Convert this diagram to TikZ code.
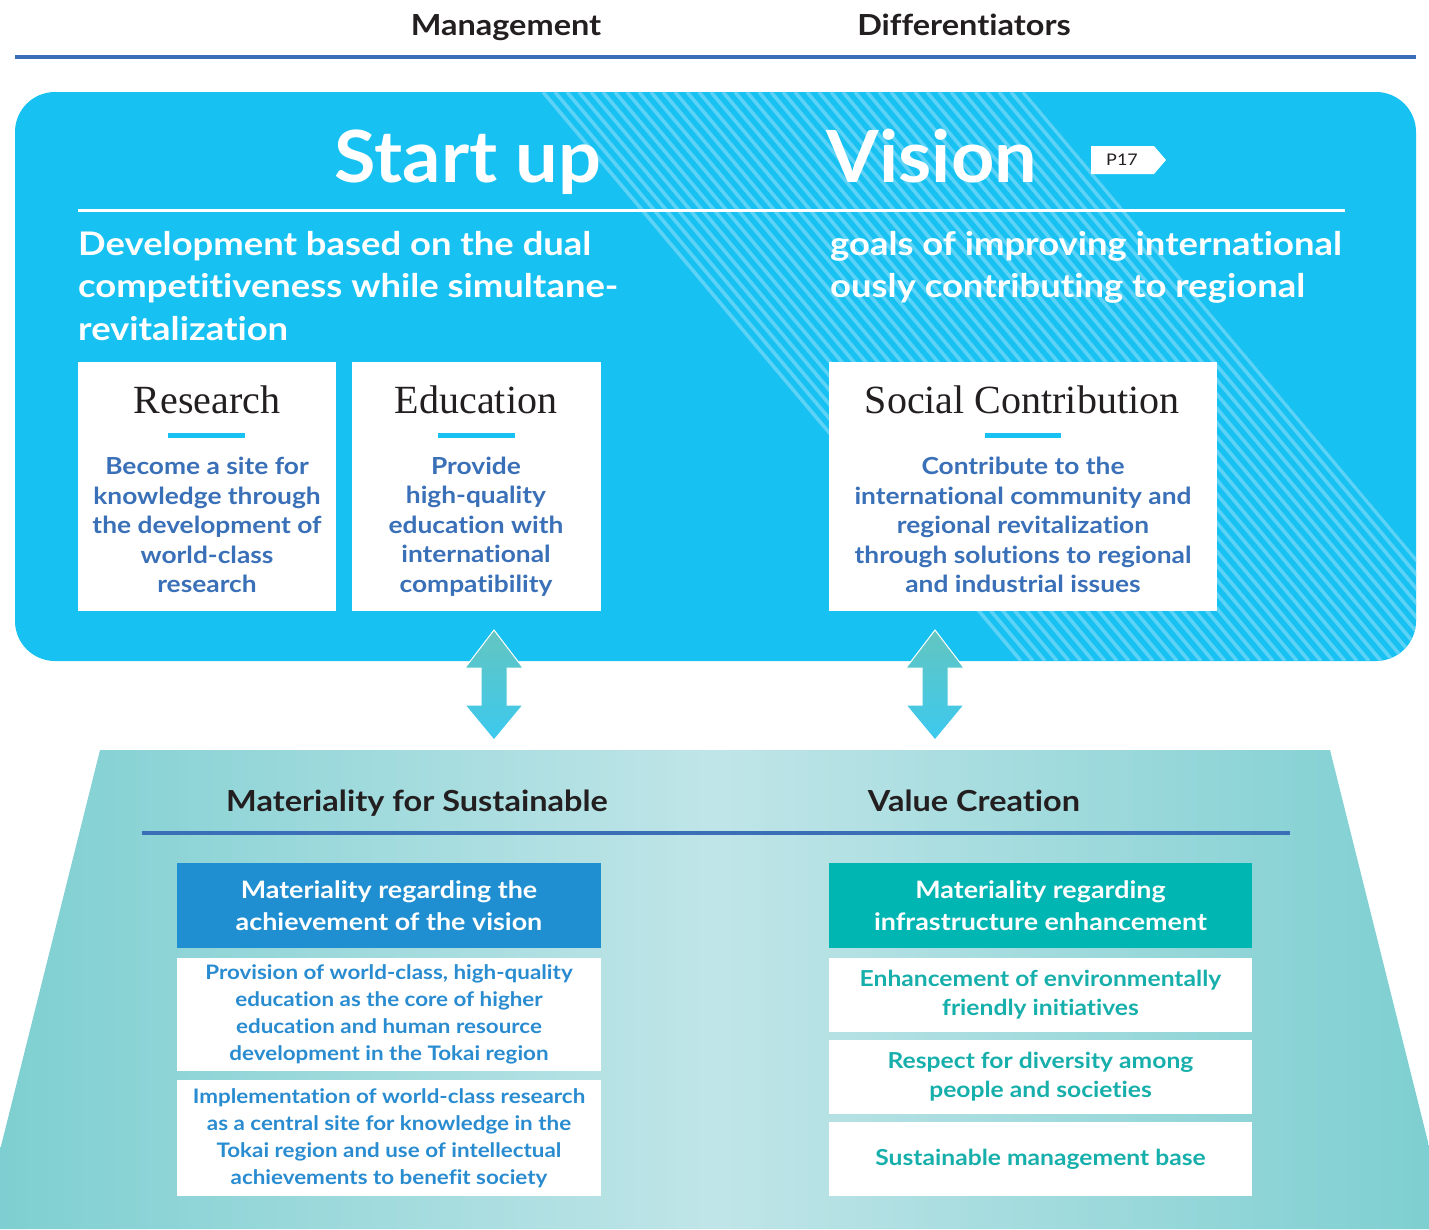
\documentclass[tikz,border=0pt]{standalone}
\usepackage{fontspec}
\usepackage{tikz}
\usetikzlibrary{positioning}
\newfontfamily\gothic{Lato}[FakeStretch=1.12, Ligatures=NoCommon]
\newfontfamily\gothicT{Lato}[FakeStretch=1.05, Ligatures=NoCommon]
\newfontfamily\serifh{Liberation Serif}
\definecolor{ruleBlue}{HTML}{3A6FB7}
\definecolor{panelBlue}{HTML}{17C1F1}
\definecolor{stripeCol}{HTML}{5CD2F6}
\definecolor{darkText}{HTML}{231F20}
\definecolor{textBlue}{HTML}{3A70B8}
\definecolor{headBlue}{HTML}{1F8FD1}
\definecolor{itemBlue}{HTML}{2A8CD0}
\definecolor{headTeal}{HTML}{00B6B2}
\definecolor{itemTeal}{HTML}{17AFAB}
\definecolor{trapEdge}{HTML}{7ECFD1}
\definecolor{trapMid}{HTML}{C0E5E8}
\definecolor{arrTop}{HTML}{63C5C0}
\definecolor{arrBot}{HTML}{3CC9EF}
\tikzset{myRule/.style={line width=4pt,color=ruleBlue}}
\tikzset{myStripe/.style={line width=3.6pt,color=stripeCol}}
\tikzset{sectionTitle/.style={inner sep=0pt,anchor=base,text=darkText,font=\gothic\bfseries\fontsize{29}{32}\selectfont}}
\tikzset{bigTitle/.style={inner sep=0pt,anchor=base,text=white,font=\gothicT\bfseries\fontsize{72}{80}\selectfont}}
\tikzset{leadText/.style={inner sep=0pt,align=left,text=white,font=\gothic\bfseries\fontsize{32.5}{42.5}\selectfont}}
\tikzset{whiteBox/.style={fill=white,inner sep=0pt}}
\tikzset{boxTitle/.style={inner sep=0pt,text=darkText,font=\serifh\fontsize{40}{44}\selectfont}}
\tikzset{boxBody/.style={inner sep=0pt,align=center,text=textBlue,font=\gothic\bfseries\fontsize{23.5}{29.5}\selectfont}}
\tikzset{headBox/.style={inner sep=0pt,align=center,text=white,font=\gothic\bfseries\fontsize{24}{32}\selectfont}}
\tikzset{itemBox/.style={fill=white,inner sep=0pt,align=center,font=\gothic\bfseries\fontsize{20}{27}\selectfont}}
\newcommand{\ax}{0}

\begin{document}
\begin{tikzpicture}[x=1pt,y=-1pt]
	\useasboundingbox (0,0) rectangle (1429,1229);
	\node[sectionTitle] (mgmt) at (506,35) {Management};
	\node[sectionTitle] (diff) at (964,35) {Differentiators};
	\draw[myRule](15,57)--(1416,57);

	%top panel
	\fill[panelBlue, rounded corners=40pt](15,92) rectangle (1416,661);
	\begin{scope}
		\clip[rounded corners=40pt](15,92) rectangle (1416,661);
		\clip(537,92)--(1025,92)--(1503,661)--(1015,661)--cycle;
		\foreach \c in {531,543,...,1035}
			\draw[myStripe](\c,92)--++(478,569);
	\end{scope}
	\node[bigTitle] (startup) at (468,182) {Start up};
	\node[bigTitle] (vision) at (932,182) {Vision};
	\fill[white](1091,146)--(1154,146)--(1166,160)--(1154,174)--(1091,174)--cycle;
	\node[inner sep=0pt, text=darkText, font=\gothic\fontsize{16}{18}\selectfont] (ptag) at (1122,160) {P17};
	\draw[white, line width=3pt](78,210)--(1345,210);
	\node[leadText, anchor=north west] (leadL) at (78,231) {Development based on the dual\\competitiveness while simultane-\\revitalization};
	\node[leadText, anchor=north west] (leadR) at (830,231) {goals of improving international\\ously contributing to regional};

	\node[whiteBox, minimum width=258, minimum height=249] (resBox) at (207,486.5) {};
	\node[whiteBox, minimum width=249, minimum height=249] (eduBox) at (476.5,486.5) {};
	\node[whiteBox, minimum width=388, minimum height=249] (socBox) at (1023,486.5) {};
	\node[boxTitle] (resTitle) at (207,400) {Research};
	\node[boxTitle] (eduTitle) at (476,400) {Education};
	\node[boxTitle] (socTitle) at (1022,400) {Social Contribution};
	\draw[panelBlue, line width=5pt](168,435)--(245,435);
	\draw[panelBlue, line width=5pt](438,435)--(515,435);
	\draw[panelBlue, line width=5pt](985,435)--(1061,435);
	\node[boxBody] (resText) at (207,525) {Become a site for\\knowledge through\\the development of\\world-class\\research};
	\node[boxBody] (eduText) at (476,526.5) {Provide\\high-quality\\education with\\international\\compatibility};
	\node[boxBody] (socText) at (1023,525) {Contribute to the\\international community and\\regional revitalization\\through solutions to regional\\and industrial issues};

	%bottom panel
	\shade[left color=trapEdge, right color=trapEdge, middle color=trapMid](100,750)--(1330,750)--(1429,1146)--(1429,1229)--(0,1229)--(0,1150)--cycle;
	\node[sectionTitle] (matTitle) at (417,811) {Materiality for Sustainable};
	\node[sectionTitle] (valTitle) at (974,811) {Value Creation};
	\draw[myRule](142,833)--(1290,833);

	\node[headBox, fill=headBlue, minimum width=424, minimum height=85] (visHead) at (389,905.5) {Materiality regarding the\\achievement of the vision};
	\node[itemBox, text=itemBlue, minimum width=424, minimum height=113] (eduItem) at (389,1014.5) {Provision of world-class, high-quality\\education as the core of higher\\education and human resource\\development in the Tokai region};
	\node[itemBox, text=itemBlue, minimum width=424, minimum height=116] (resItem) at (389,1138) {Implementation of world-class research\\as a central site for knowledge in the\\Tokai region and use of intellectual\\achievements to benefit society};

	\node[headBox, fill=headTeal, minimum width=423, minimum height=85] (infHead) at (1040.5,905.5) {Materiality regarding\\infrastructure enhancement};
	\node[itemBox, text=itemTeal, minimum width=423, minimum height=74, font=\gothic\bfseries\fontsize{22}{29}\selectfont] (envItem) at (1040.5,995) {Enhancement of environmentally\\friendly initiatives};
	\node[itemBox, text=itemTeal, minimum width=423, minimum height=74, font=\gothic\bfseries\fontsize{22}{29}\selectfont] (divItem) at (1040.5,1077) {Respect for diversity among\\people and societies};
	\node[itemBox, text=itemTeal, minimum width=423, minimum height=74, font=\gothic\bfseries\fontsize{22}{29}\selectfont] (susItem) at (1040.5,1159) {Sustainable management base};

	%double arrows
	\renewcommand{\ax}{494}
	\shade[top color=arrTop, bottom color=arrBot, draw=white, line width=1pt](\ax,630)--(\ax+29,668)--(\ax+13,668)--(\ax+13,705)--(\ax+29,705)--(\ax,740)--(\ax-29,705)--(\ax-13,705)--(\ax-13,668)--(\ax-29,668)--cycle;
	\renewcommand{\ax}{935}
	\shade[top color=arrTop, bottom color=arrBot, draw=white, line width=1pt](\ax,630)--(\ax+29,668)--(\ax+13,668)--(\ax+13,705)--(\ax+29,705)--(\ax,740)--(\ax-29,705)--(\ax-13,705)--(\ax-13,668)--(\ax-29,668)--cycle;
\end{tikzpicture}
\end{document}
